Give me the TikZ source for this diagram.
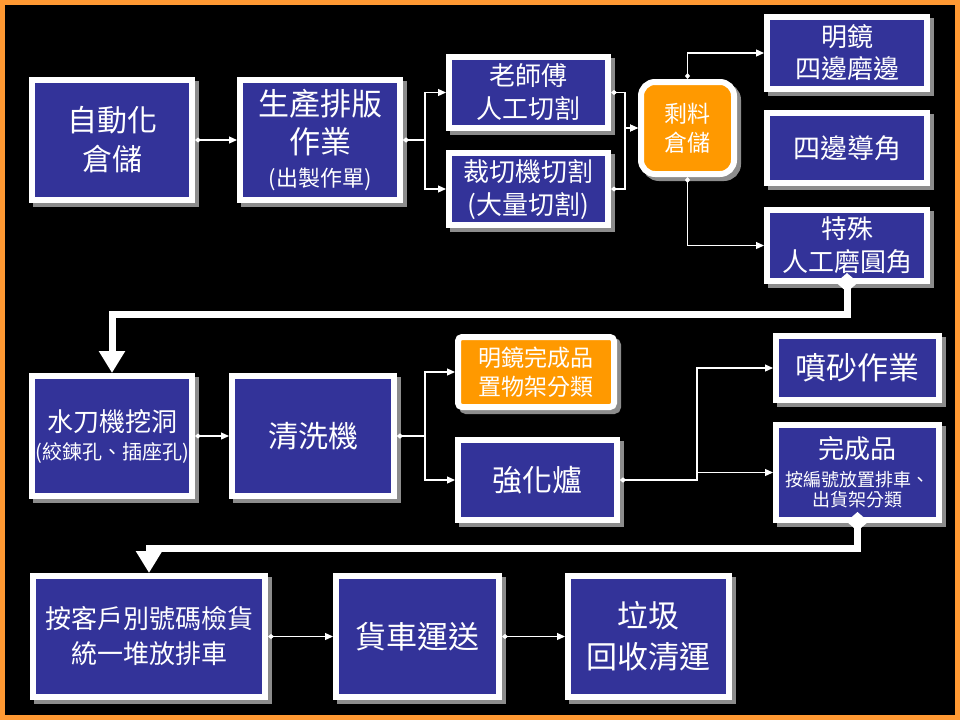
\documentclass[tikz,border=0pt]{standalone}
\usepackage{fontspec}
\setmainfont{Noto Sans CJK TC}
\usetikzlibrary{arrows.meta,calc}
\definecolor{boxblue}{HTML}{333399}
\definecolor{boxorange}{HTML}{FF9900}
\definecolor{frameorange}{HTML}{FF9933}
\definecolor{shadowgray}{HTML}{8C8C8C}
\newcommand\fsz[2]{\fontsize{#1}{#2}\selectfont}
\tikzset{
  box/.style={draw=white, line width=6pt, fill=boxblue, text=white, align=center,
    inner sep=0pt, outer sep=3pt,
    preaction={draw=shadowgray, fill=shadowgray, line width=6pt,
      transform canvas={xshift=4pt,yshift=-4pt}}},
  obox/.style={box, fill=boxorange},
  conn/.style={draw=white, line width=1.2pt,
    arrows={Diamond[width=5pt,length=6pt]-Triangle[width=7pt,length=8pt]}},
  bigconn/.style={draw=white, line width=7pt,
    arrows={Diamond[width=22pt,length=19pt]-Triangle[width=25pt,length=22pt]}}
}
\begin{document}
\begin{tikzpicture}[x=1pt,y=-1pt]
\useasboundingbox (0,0) rectangle (960,720);
\fill[black] (0,0) rectangle (960,720);
\draw[frameorange, line width=5pt] (2.5,2.5) rectangle (957.5,717.5);

% row 1
\node[box, minimum width=160pt, minimum height=120pt, font=\fsz{30}{39}] (auto) at (112,140) {自動化\\倉儲};
\node[box, minimum width=160pt, minimum height=120pt, font=\fsz{31}{38}] (prod) at (320,140) {生產排版\\作業\\[-5pt]{\fsz{22}{26}(出製作單)}};
\node[box, minimum width=159pt, minimum height=71pt, font=\fsz{26}{33}] (master) at (528.5,92.5) {老師傅\\人工切割};
\node[box, minimum width=159pt, minimum height=72pt, font=\fsz{26}{33}] (cutter) at (528.5,189) {裁切機切割\\(大量切割)};
\node[obox, rounded corners=14pt, minimum width=93pt, minimum height=92pt, font=\fsz{23}{29}] (rem) at (687.5,128) {剩料\\倉儲};
\node[box, minimum width=160pt, minimum height=72pt, font=\fsz{26}{32}] (mirror) at (847,53) {明鏡\\四邊磨邊};
\node[box, minimum width=160pt, minimum height=70pt, font=\fsz{27}{32}] (corner) at (847,148) {四邊導角};
\node[box, minimum width=160pt, minimum height=71pt, font=\fsz{26}{33}] (special) at (847,245.5) {特殊\\人工磨圓角};

% row 2
\node[box, minimum width=160pt, minimum height=120pt, font=\fsz{26}{31}] (water) at (112,436) {水刀機挖洞\\[-3pt]{\fsz{20}{24}(絞鍊孔、插座孔)}};
\node[box, minimum width=162pt, minimum height=120pt, font=\fsz{30}{36}] (wash) at (313,436) {清洗機};
\node[obox, rounded corners=4pt, minimum width=156pt, minimum height=70pt, font=\fsz{23}{29}] (mfin) at (536,372) {明鏡完成品\\置物架分類};
\node[box, minimum width=159pt, minimum height=80pt, font=\fsz{30}{36}] (temper) at (537.5,480) {強化爐};
\node[box, minimum width=163pt, minimum height=64pt, font=\fsz{31}{36}] (sand) at (857.5,368) {噴砂作業};
\node[box, minimum width=163pt, minimum height=95pt, font=\fsz{26}{31}] (fin) at (857.5,472.5) {完成品\\[-3pt]{\fsz{18}{20}按編號放置排車、}\\[-11pt]{\fsz{18}{20}出貨架分類}};

% row 3
\node[box, minimum width=232pt, minimum height=121pt, font=\fsz{26}{35}] (cust) at (149,636.5) {按客戶別號碼檢貨\\統一堆放排車};
\node[box, minimum width=163pt, minimum height=121pt, font=\fsz{31}{38}] (truck) at (417.5,636.5) {貨車運送};
\node[box, minimum width=161pt, minimum height=121pt, font=\fsz{31}{41}] (trash) at (648.5,636.5) {垃圾\\回收清運};

% thin connectors
\draw[conn] (auto) -- (prod);
\draw[conn] (prod.east) -- ++(22,0) |- (master.west);
\draw[conn] (prod.east) -- ++(22,0) |- (cutter.west);
\draw[conn] (master.east) -- ++(14,0) |- (rem.west);
\draw[conn] (cutter.east) -- ++(14,0) |- (rem.west);
\draw[conn] (rem.north) |- (mirror.west);
\draw[conn] (rem.south) |- (special.west);
\draw[conn] (water) -- (wash);
\draw[conn] (wash.east) -- ++(28,0) |- (mfin.west);
\draw[conn] (wash.east) -- ++(28,0) |- (temper.west);
\draw[conn] (temper.east) -- ++(77,0) |- (sand.west);
\draw[conn] (temper.east) -- ++(77,0) |- (fin.west);
\draw[conn] (cust) -- (truck);
\draw[conn] (truck) -- (trash);

% thick connectors
\coordinate (j1) at (0,314);
\coordinate (j2) at (0,548);
\draw[bigconn] ([yshift=11pt]special.south) |- (water.north |- j1) -- (water.north);
\draw[bigconn] ([yshift=11pt]fin.south) |- (cust.north |- j2) -- (cust.north);
\end{tikzpicture}
\end{document}
